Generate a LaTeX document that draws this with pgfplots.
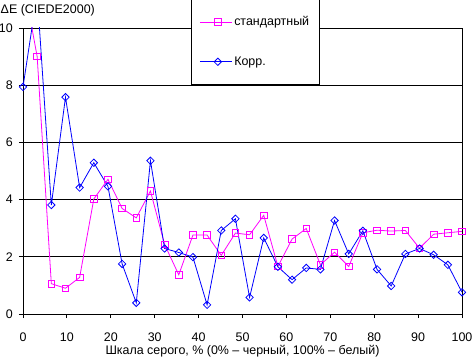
\documentclass[border=0pt]{standalone}
\usepackage{pgfplots}
\pgfplotsset{compat=1.18}
\usepackage{fontspec}
\setmainfont{Liberation Sans}
\definecolor{mag}{RGB}{255,0,255}
\definecolor{blu}{RGB}{0,0,255}
\pgfplotstableread{
x std korr
0 11.7 7.94
3.226 9.00 11.2
6.452 1.06 3.81
9.677 0.90 7.58
12.903 1.28 4.42
16.129 4.02 5.29
19.355 4.71 4.46
22.581 3.69 1.75
25.806 3.36 0.39
29.032 4.30 5.36
32.258 2.43 2.29
35.484 1.37 2.15
38.710 2.76 1.99
41.935 2.76 0.32
45.161 2.05 2.92
48.387 2.83 3.33
51.613 2.77 0.58
54.839 3.45 2.66
58.065 1.66 1.65
61.290 2.62 1.20
64.516 2.99 1.61
67.742 1.72 1.56
70.968 2.16 3.27
74.194 1.66 2.10
77.419 2.84 2.91
80.645 2.93 1.56
83.871 2.90 0.98
87.097 2.92 2.10
90.323 2.30 2.29
93.548 2.79 2.07
96.774 2.84 1.72
100 2.89 0.76
}\data
\begin{document}
\fontsize{12.5}{14}\selectfont
\begin{tikzpicture}
\path[use as bounding box] (-23bp,-43bp) rectangle (449bp,314bp);
\begin{axis}[
  at={(0,0)}, anchor=south west,
  scale only axis, width=439bp, height=286bp,
  xmin=0, xmax=100, ymin=0, ymax=10,
  xtick={0,10,...,100}, ytick={0,2,...,10},
  ymajorgrids,
  major grid style={black, line width=0.9bp},
  axis line style={black, line width=0.9bp},
  tick style={black, line width=0.9bp},
  tick align=outside, major tick length=4bp,
  tick pos=left,
  /pgf/number format/assume math mode=true,
  every tick label/.append style={font=\fontsize{12.5}{14}\selectfont},
  xticklabel style={anchor=base, inner sep=0pt, yshift=-23bp},
  yticklabel style={anchor=east, inner sep=0pt, xshift=-6bp},
  xlabel={Шкала серого, \% (0\% – черный, 100\% – белый)},
  xlabel style={at={(axis description cs:0.5,0)}, anchor=base, yshift=-40bp, inner sep=0pt},
  legend style={at={(rel axis cs:0.3827,1.1014)}, anchor=north west,
    draw=black, line width=0.9bp, inner xsep=8bp, inner ysep=15bp, row sep=25bp,
    font=\fontsize{12.5}{14}\selectfont,
    /tikz/every even column/.append style={column sep=0pt}},
  legend cell align=left,
  legend image code/.code={%
    \path (0bp,0bp) -- (30bp,0bp);
    \draw[mark repeat=2,mark phase=2] plot coordinates {(4bp,0bp) (18bp,0bp) (32bp,0bp)};},
]
\addplot[mag, line width=0.8bp, mark=square, mark size=3.3bp, mark options={fill=white, solid, line width=0.8bp}] table[x=x,y=std] {\data};
\addlegendentry{стандартный}
\addplot[blu, line width=0.8bp, mark=square, mark size=2.6bp, mark options={fill=white, solid, rotate=45, line width=0.8bp}] table[x=x,y=korr] {\data};
\addlegendentry{Корр.}
\end{axis}
\node[anchor=base west, inner sep=0pt] at (-22.5bp,300.5bp) {ΔE (CIEDE2000)};
\end{tikzpicture}
\end{document}
